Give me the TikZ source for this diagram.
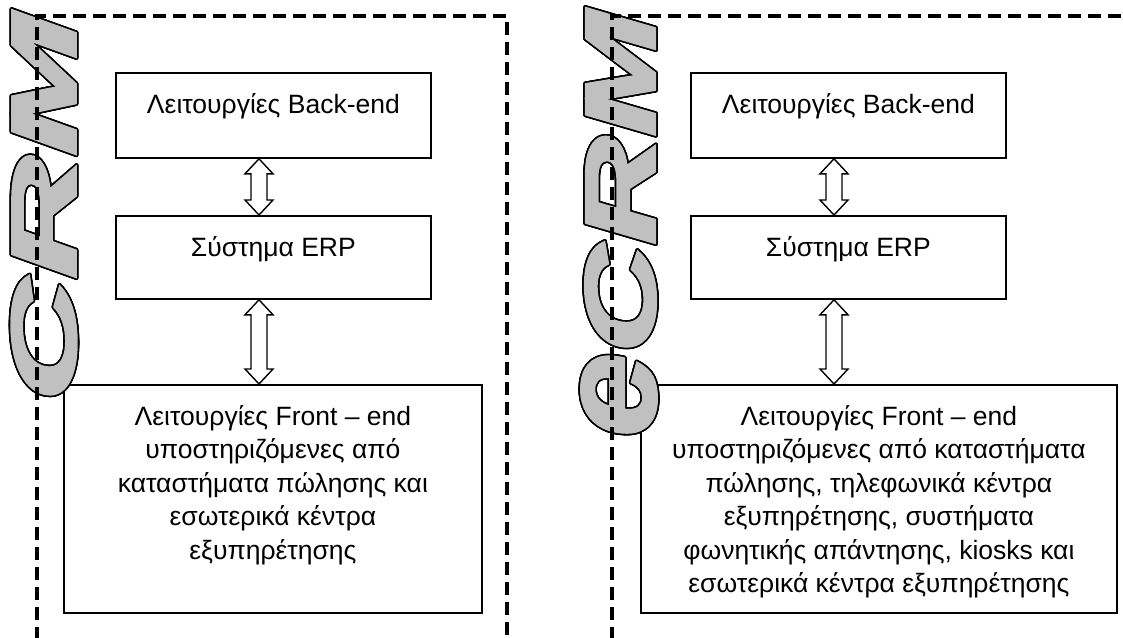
\documentclass[tikz,border=0pt]{standalone}
\usepackage{fontspec}
\setmainfont{Liberation Sans}
\newfontfamily\crmfont{Liberation Sans}[BoldItalicFeatures={FakeBold=2.5}]
\usetikzlibrary{calc}
\definecolor{crmgray}{RGB}{192,192,192}
\newcommand\crmword{\scalebox{1.85}[1]{CRM}}
\newcommand\ecrmword{\scalebox{1.5}[1]{\scalebox{1}[1.36]{e}CRM}}
\newcommand\firstline{\rule{0pt}{21pt}}
\newcommand\dblarrow[2]{%
  \draw[blockarrow] let \p1=(#1), \p2=(#2) in
    (\x1,\y1) -- (\x1+14pt,\y1-15pt) -- (\x1+8pt,\y1-15pt) -- (\x1+8pt,\y2+15pt)
    -- (\x1+14pt,\y2+15pt) -- (\x2,\y2) -- (\x1-14pt,\y2+15pt) -- (\x1-8pt,\y2+15pt)
    -- (\x1-8pt,\y1-15pt) -- (\x1-14pt,\y1-15pt) -- cycle;}
\tikzset{
  box/.style={draw=black, line width=1.8pt, fill=white, inner sep=0pt, anchor=north west},
  lbl/.style={font=\fontsize{26.5}{33.5}\selectfont, align=center, anchor=north, inner sep=0pt},
  panel/.style={draw=black, line width=3.4pt, dash pattern=on 13pt off 7pt},
  blockarrow/.style={draw=black, line width=1.4pt, fill=white, line join=miter},
  crm/.style={rotate=90, inner sep=0pt, font=\crmfont\bfseries\itshape\fontsize{92}{92}\selectfont},
  ecrm/.style={rotate=90, inner sep=0pt, font=\crmfont\bfseries\itshape\fontsize{100}{100}\selectfont},
}
\begin{document}
\begin{tikzpicture}[x=1pt,y=-1pt]
\useasboundingbox (0,0) rectangle (1123,637);
\fill[white] (0,0) rectangle (1123,637);
\clip (0,0) rectangle (1123,637);

% left panel boxes
\node[box, minimum width=315, minimum height=85] (be1) at (115,72) {};
\node[box, minimum width=315, minimum height=83] (erp1) at (115,215) {};
\node[box, minimum width=418, minimum height=228] (fe1) at (63,384) {};
\node[lbl] (be1t) at ($(be1.north)+(0,20)$) {\firstline Λειτουργίες Back-end};
\node[lbl] (erp1t) at ($(erp1.north)+(0,20)$) {\firstline Σύστημα ERP};
\node[lbl] (fe1t) at ($(fe1.north)+(0,20)$) {\firstline Λειτουργίες Front – end\\υποστηριζόμενες από\\καταστήματα πώλησης και\\εσωτερικά κέντρα\\εξυπηρέτησης};
\coordinate (a1t) at ($(be1.south west)+(144,0)$);
\coordinate (a1b) at (a1t |- erp1.north);
\coordinate (a2t) at (a1t |- erp1.south);
\coordinate (a2b) at (a1t |- fe1.north);
\dblarrow{a1t}{a1b}
\dblarrow{a2t}{a2b}

% right panel boxes
\node[box, minimum width=315, minimum height=85] (be2) at (690,72) {};
\node[box, minimum width=315, minimum height=83] (erp2) at (690,215) {};
\node[box, minimum width=476, minimum height=228] (fe2) at (640,384) {};
\node[lbl] (be2t) at ($(be2.north)+(0,20)$) {\firstline Λειτουργίες Back-end};
\node[lbl] (erp2t) at ($(erp2.north)+(0,20)$) {\firstline Σύστημα ERP};
\node[lbl] (fe2t) at ($(fe2.north)+(0,20)$) {\firstline Λειτουργίες Front – end\\υποστηριζόμενες από καταστήματα\\πώλησης, τηλεφωνικά κέντρα\\εξυπηρέτησης, συστήματα\\φωνητικής απάντησης, kiosks και\\εσωτερικά κέντρα εξυπηρέτησης};
\coordinate (b1t) at ($(be2.south west)+(144,0)$);
\coordinate (b1b) at (b1t |- erp2.north);
\coordinate (b2t) at (b1t |- erp2.south);
\coordinate (b2b) at (b1t |- fe2.north);
\dblarrow{b1t}{b1b}
\dblarrow{b2t}{b2b}

% WordArt titles
\coordinate (crmc1) at (44,208);
\coordinate (crmc2) at (619,224);
\foreach \a in {0,15,...,345} {
  \node[crm, text=black] (crmo\a) at ($(crmc1)+(\a:1.6)$) {\crmword};
  \node[ecrm, text=black] (ecrmo\a) at ($(crmc2)+(\a:1.6)$) {\ecrmword};
}
\node[crm, text=crmgray] (crm1) at (crmc1) {\crmword};
\node[ecrm, text=crmgray] (crm2) at (crmc2) {\ecrmword};

% dashed frames
\draw[panel] (37,660) -- (37,16) -- (507,16) -- (507,660);
\draw[panel] (612,660) -- (612,16) -- (1130,16);
\end{tikzpicture}
\end{document}
